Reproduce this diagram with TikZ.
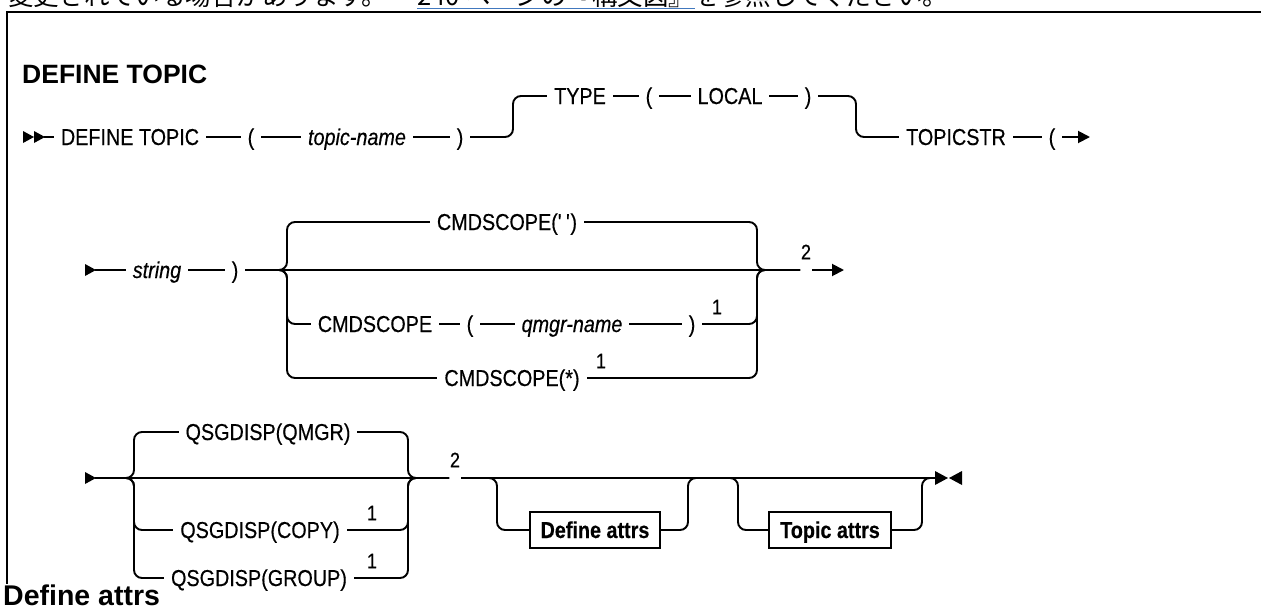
\documentclass[tikz,border=0pt]{standalone}
\usepackage{fontspec}
\setmainfont{Liberation Sans}
\newfontfamily\diag[FakeStretch=0.86,FakeBold=0.4]{Liberation Sans}
\newfontfamily\jp{Noto Sans CJK JP}
\usetikzlibrary{arrows.meta}
\pgfdeclarelayer{bg}
\pgfsetlayers{bg,main}
\definecolor{linkblue}{HTML}{4178BE}
\newcommand{\dfont}{\diag\fontsize{23}{27}\selectfont}
\newcommand{\sfont}{\diag\fontsize{21}{24}\selectfont}
\newcommand{\tfont}{\fontsize{26.5}{31}\selectfont\bfseries}
\newcommand{\hfont}{\fontsize{28.5}{33}\selectfont\bfseries}
\newcommand{\jpf}{\jp\fontsize{25.5}{30}\selectfont}
\begin{document}
\begin{tikzpicture}[x=1pt,y=-1pt,
  tok/.style={fill=white, inner xsep=7pt, inner ysep=1pt, font=\dfont, text height=17pt, text depth=1pt},
  itok/.style={tok, font=\dfont\itshape},
  sup/.style={font=\sfont, inner sep=0pt},
  ln/.style={line width=1.9pt},
  brl/.style={line width=1.9pt, rounded corners=8pt},
  boxref/.style={draw, line width=1.5pt, fill=white, font=\dfont\bfseries, minimum height=36pt, inner xsep=6pt, text height=17pt, text depth=1pt},
  tip/.style={-{Triangle[length=12pt,width=12pt]}},
]
\useasboundingbox (0,0) rectangle (1261,608);

% header text (cut at top)
\node[anchor=base west, inner sep=0pt, font=\jpf] (jp1) at (8,5.5) {変更されている場合があります。};
\node[anchor=base west, inner sep=0pt, font=\jpf] (jp2) at (417,5.5) {240 ページの『構文図』};
\node[anchor=base west, inner sep=0pt, font=\jpf] (jp3) at (jp2.base east) {を参照してください。};
\draw[linkblue, line width=1.2pt] ([yshift=-3pt]jp2.base west) -- ([yshift=-3pt]jp2.base east);

% frame
\coordinate (fr1) at (1262,12);
\coordinate (fr2) at (7,12);
\coordinate (fr3) at (7,584);
\draw[line width=2.4pt] (fr1) -- (fr2) -- (fr3);

% titles
\node[anchor=base west, inner sep=0pt, font=\tfont] (title) at (22,83) {DEFINE TOPIC};
\node[anchor=base west, inner sep=0pt, font=\hfont] (h2) at (3,605) {Define attrs};

% ---------- line 1 ----------
\coordinate (s1) at (23,137);
\node[tok] (dt) at (130,137) {DEFINE TOPIC};
\node[tok] (lp1) at (251,137) {(};
\node[itok] (tn) at (357,137) {topic-name};
\node[tok] (rp1) at (460,137) {)};
\node[tok] (ty) at (580,96) {TYPE};
\node[tok] (lp2) at (649,96) {(};
\node[tok] (loc) at (730,96) {LOCAL};
\node[tok] (rp2) at (808,96) {)};
\node[tok] (ts) at (956,137) {TOPICSTR};
\node[tok] (lp3) at (1052,137) {(};
\coordinate (u1) at (513,137);
\coordinate (u2) at (856,137);
\coordinate (e1) at (1090,137);

% ---------- line 2 ----------
\coordinate (s2) at (85,270);
\node[itok] (str) at (157,270) {string};
\node[tok] (rp4) at (235,270) {)};
\coordinate (sp2) at (287,270);
\coordinate (jn2) at (757,270);
\node[tok] (c1) at (507,222) {CMDSCOPE(\textquotesingle\,\textquotesingle)};
\node[tok] (c2) at (375,324) {CMDSCOPE};
\node[tok] (lp5) at (470,324) {(};
\node[itok] (qm) at (572,324) {qmgr-name};
\node[tok] (rp5) at (692,324) {)};
\node[sup] (n1a) at (717,307) {1};
\node[tok] (c3) at (512,378) {CMDSCOPE(*)};
\node[sup] (n1b) at (601,361) {1};
\node[sup] (n2a) at (806,252) {2};
\coordinate (g2a) at (800,270);
\coordinate (g2b) at (812,270);
\coordinate (e2) at (844,270);

% ---------- line 3 ----------
\coordinate (s3) at (85,478);
\coordinate (sp3) at (134,478);
\coordinate (jn3) at (408,478);
\node[tok] (q1) at (268,432) {QSGDISP(QMGR)};
\node[tok] (q2) at (260,530) {QSGDISP(COPY)};
\node[sup] (n1c) at (372,513) {1};
\node[tok] (q3) at (259,578) {QSGDISP(GROUP)};
\node[sup] (n1d) at (372,561) {1};
\node[sup] (n2b) at (455,460) {2};
\coordinate (g3a) at (449,478);
\coordinate (g3b) at (461,478);
\node[boxref, minimum width=130pt] (da) at (595,530) {Define attrs};
\node[boxref, minimum width=122pt] (ta) at (830,530) {Topic attrs};
\coordinate (d1) at (497,478);
\coordinate (d2) at (688,478);
\coordinate (t1) at (738,478);
\coordinate (t2) at (922,478);
\coordinate (e3) at (935,478);

\begin{pgfonlayer}{bg}
  % line 1
  \fill (s1) ++(0,-6) -- ++(11,6) -- ++(-11,6) -- cycle;
  \fill ([xshift=11pt]s1) ++(0,-6) -- ++(11,6) -- ++(-11,6) -- cycle;
  \draw[ln] ([xshift=21pt]s1) -- (rp1.center);
  \draw[brl] (rp1.center) -- (u1) -- (u1 |- ty) -- (rp2.center) -- (u2 |- rp2) -- (u2) -- (lp3.center);
  \draw[ln, tip] (lp3.center) -- (e1);
  % line 2
  \fill (s2) ++(0,-6) -- ++(11,6) -- ++(-11,6) -- cycle;
  \draw[ln] ([xshift=10pt]s2) -- (g2a);
  \draw[brl] (rp4.center) -- (sp2) -- (sp2 |- c1) -- (jn2 |- c1) -- (jn2) -- (g2a);
  \draw[brl] (rp4.center) -- (sp2) -- (sp2 |- c2) -- (jn2 |- c2) -- (jn2) -- (g2a);
  \draw[brl] (rp4.center) -- (sp2) -- (sp2 |- c3) -- (jn2 |- c3) -- (jn2) -- (g2a);
  \draw[ln, tip] (g2b) -- (e2);
  % line 3
  \fill (s3) ++(0,-6) -- ++(11,6) -- ++(-11,6) -- cycle;
  \draw[ln] ([xshift=10pt]s3) -- (g3a);
  \draw[brl] ([xshift=10pt]s3) -- (sp3) -- (sp3 |- q1) -- (jn3 |- q1) -- (jn3) -- (g3a);
  \draw[brl] ([xshift=10pt]s3) -- (sp3) -- (sp3 |- q2) -- (jn3 |- q2) -- (jn3) -- (g3a);
  \draw[brl] ([xshift=10pt]s3) -- (sp3) -- (sp3 |- q3) -- (jn3 |- q3) -- (jn3) -- (g3a);
  \draw[ln] (g3b) -- (e3);
  \draw[brl] (g3b) -- (d1) -- (d1 |- da) -- (da.west);
  \draw[brl] (da.east) -- (d2 |- da) -- (d2) -- (t1);
  \draw[brl] (d2) -- (t1) -- (t1 |- ta) -- (ta.west);
  \draw[brl] (ta.east) -- (t2 |- ta) -- (t2) -- (e3);
  \fill (e3) ++(0,-7) -- ++(13,7) -- ++(-13,7) -- cycle;
  \fill ([xshift=27pt]e3) ++(0,-7) -- ++(-13,7) -- ++(13,7) -- cycle;
\end{pgfonlayer}
\end{tikzpicture}
\end{document}
